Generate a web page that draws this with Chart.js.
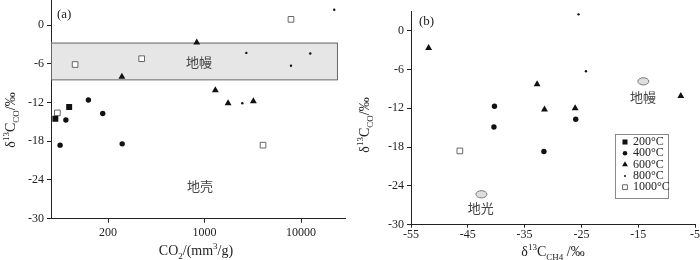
<!DOCTYPE html>
<html>
<head>
<meta charset="utf-8">
<script src="https://cdn.jsdelivr.net/npm/chart.js@4"></script>
<style>
  html, body { margin: 0; padding: 0; background: #fff; overflow: hidden; }
  #wrap { position: relative; width: 700px; height: 260px; }
  canvas { position: absolute; top: 0; }
</style>
</head>
<body>
<div id="wrap">
  <canvas id="chartA" width="350" height="260" style="left:0"></canvas>
  <canvas id="chartB" width="350" height="260" style="left:350px"></canvas>
</div>
<script>
// ---- (a) CO2 content vs d13C(CO)
const co2_200 = [28.4, 39.5];
const dco_200a = [-14.5, -12.7];
const co2_400 = [36.5, 62.5, 88, 31.8, 140];
const dco_400a = [-14.7, -11.6, -13.7, -18.6, -18.4];
const co2_600 = [139, 830, 1294, 1754, 3206];
const dco_600a = [-8.0, -2.7, -10.1, -12.1, -11.8];
const co2_800 = [22100, 2710, 7870, 12470, 2465];
const dco_800a = [2.4, -4.3, -6.3, -4.4, -12.1];
const co2_1000 = [7870, 45.5, 223, 29.8, 4037];
const dco_1000a = [0.9, -6.1, -5.2, -13.6, -18.6];
const xTicksA = [100, 1000, 10000];
const xTickLabelsA = ['200', '1000', '10000'];
const mantleBand = [-2.7, -8.4];      // d13C range of the shaded band
const mantleBandX = [25.6, 24150];    // CO2 extent of the band

// ---- (b) d13C(CH4) vs d13C(CO)
const ch4_400 = [-40.3, -40.4, -26.0, -31.6];
const dco_400b = [-11.7, -14.9, -13.7, -18.7];
const ch4_600 = [-51.9, -32.8, -31.5, -26.1, -7.5];
const dco_600b = [-2.7, -8.3, -12.2, -12.0, -10.1];
const ch4_800 = [-25.5, -24.2];
const dco_800b = [2.5, -6.3];
const ch4_1000 = [-46.4];
const dco_1000b = [-18.6];
const xTicksB = [-55, -45, -35, -25, -15, -5];
const yTicks = [-30, -24, -18, -12, -6, 0];
const mantleFieldB = [-14.1, -7.85];
const crustFieldB = [-42.6, -25.3];

const tempLabels = ['200°C', '400°C', '600°C', '800°C', '1000°C'];

Chart.defaults.font.family = '"Liberation Serif", serif';
Chart.defaults.color = '#222';

const ink = '#222';
const styles = [
  { pointStyle: 'rect', radius: 4.2, backgroundColor: '#111', borderColor: '#111', borderWidth: 0 },
  { pointStyle: 'circle', radius: 2.7, backgroundColor: '#111', borderColor: '#111', borderWidth: 0 },
  { pointStyle: 'triangle', radius: 4, backgroundColor: '#111', borderColor: '#111', borderWidth: 0 },
  { pointStyle: 'circle', radius: 1.2, backgroundColor: '#111', borderColor: '#111', borderWidth: 0 },
  { pointStyle: 'rect', radius: 4, backgroundColor: '#fff', borderColor: '#666', borderWidth: 1 }
];

function pts(xs, ys) { return xs.map((x, i) => ({ x: x, y: ys[i] })); }

function makeSets(pairs) {
  return pairs.map((p, i) => ({
    label: tempLabels[i],
    data: pts(p[0], p[1]),
    pointStyle: styles[i].pointStyle,
    pointRadius: styles[i].radius,
    pointHoverRadius: styles[i].radius,
    pointBackgroundColor: styles[i].backgroundColor,
    pointBorderColor: styles[i].borderColor,
    pointBorderWidth: styles[i].borderWidth,
    showLine: false
  }));
}

// rich text with super/subscripts, centred at x
function drawRich(ctx, segs, x, y, size) {
  const small = Math.round(size * 0.65);
  const fontFor = s => (s === 'n' ? size : small) + 'px "Liberation Serif", serif';
  let w = 0;
  segs.forEach(s => { ctx.font = fontFor(s[1]); w += ctx.measureText(s[0]).width; });
  let cx = x - w / 2;
  ctx.textBaseline = 'alphabetic';
  ctx.textAlign = 'left';
  segs.forEach(s => {
    ctx.font = fontFor(s[1]);
    const dy = s[1] === 'sup' ? -size * 0.42 : s[1] === 'sub' ? size * 0.25 : 0;
    ctx.fillText(s[0], cx, y + dy);
    cx += ctx.measureText(s[0]).width;
  });
}

const yTitleSegs = [['δ', 'n'], ['13', 'sup'], ['C', 'n'], ['CO', 'sub'], ['/‰', 'n']];

function fixScale(size, vertical) {
  return s => {
    if (vertical) s.width = size; else s.height = size;
    s.paddingTop = 0; s.paddingBottom = 0; s.paddingLeft = 0; s.paddingRight = 0;
  };
}

function yScale(width, max) {
  return {
    type: 'linear', min: -30, max: max,
    afterBuildTicks: s => { s.ticks = yTicks.map(v => ({ value: v })); },
    ticks: { font: { size: 12 }, color: ink, padding: 3 },
    grid: { drawOnChartArea: false, tickLength: 4, color: ink },
    border: { color: ink },
    afterFit: fixScale(width, true)
  };
}

// ---- chart (a)
const decorA = {
  id: 'decorA',
  beforeDatasetsDraw(chart) {
    const ctx = chart.ctx, x = chart.scales.x, y = chart.scales.y;
    const x0 = x.getPixelForValue(mantleBandX[0]), x1 = x.getPixelForValue(mantleBandX[1]);
    const y0 = y.getPixelForValue(mantleBand[0]), y1 = y.getPixelForValue(mantleBand[1]);
    ctx.save();
    ctx.fillStyle = '#e6e6e6';
    ctx.strokeStyle = '#666';
    ctx.lineWidth = 1;
    ctx.fillRect(x0, y0, x1 - x0, y1 - y0);
    ctx.strokeRect(x0 + 0.5, y0 + 0.5, x1 - x0 - 1, y1 - y0);
    ctx.fillStyle = '#444';
    ctx.font = '13px "Noto Sans CJK SC", sans-serif';
    ctx.textAlign = 'center';
    ctx.textBaseline = 'middle';
    ctx.fillText('地幔', x.getPixelForValue(877), y.getPixelForValue(-5.7));
    ctx.fillText('地壳', x.getPixelForValue(898), y.getPixelForValue(-24.9));
    ctx.restore();
  },
  afterDraw(chart) {
    const ctx = chart.ctx;
    ctx.save();
    ctx.fillStyle = ink;
    ctx.font = '13px "Liberation Serif", serif';
    ctx.textBaseline = 'middle';
    ctx.fillText('(a)', 57, 15);
    drawRich(ctx, [['CO', 'n'], ['2', 'sub'], ['/(mm', 'n'], ['3', 'sup'], ['/g)', 'n']], 196, 255, 14);
    ctx.translate(15, 120);
    ctx.rotate(-Math.PI / 2);
    drawRich(ctx, yTitleSegs, 0, 0, 14);
    ctx.restore();
  }
};

new Chart(document.getElementById('chartA'), {
  type: 'scatter',
  data: {
    datasets: makeSets([[co2_200, dco_200a], [co2_400, dco_400a], [co2_600, dco_600a],
                        [co2_800, dco_800a], [co2_1000, dco_1000a]])
  },
  options: {
    responsive: false, animation: false, devicePixelRatio: 1,
    layout: { autoPadding: false, padding: { left: 0, right: 5, top: 0, bottom: 0 } },
    plugins: { legend: { display: false }, tooltip: { enabled: false } },
    scales: {
      x: {
        type: 'logarithmic', min: 25.6, max: 28570,
        afterBuildTicks: s => { s.ticks = xTicksA.map(v => ({ value: v })); },
        ticks: { callback: (v, i) => xTickLabelsA[i], font: { size: 12 }, color: ink, padding: 3,
                 maxRotation: 0, autoSkip: false },
        grid: { drawOnChartArea: false, tickLength: 4, color: ink },
        border: { color: ink },
        afterFit: fixScale(41.3, false)
      },
      y: yScale(51, 3.9)
    }
  },
  plugins: [decorA]
});

// ---- chart (b)
const decorB = {
  id: 'decorB',
  beforeDatasetsDraw(chart) {
    const ctx = chart.ctx, x = chart.scales.x, y = chart.scales.y;
    ctx.save();
    ctx.fillStyle = '#dedede';
    ctx.strokeStyle = '#777';
    ctx.lineWidth = 1;
    [mantleFieldB, crustFieldB].forEach(f => {
      ctx.beginPath();
      ctx.ellipse(x.getPixelForValue(f[0]), y.getPixelForValue(f[1]), 5.5, 3.6, 0, 0, Math.PI * 2);
      ctx.fill();
      ctx.stroke();
    });
    ctx.fillStyle = '#444';
    ctx.font = '13px "Noto Sans CJK SC", sans-serif';
    ctx.textAlign = 'center';
    ctx.textBaseline = 'middle';
    ctx.fillText('地幔', x.getPixelForValue(-14.15), y.getPixelForValue(-10.3));
    ctx.fillText('地光', x.getPixelForValue(-42.7), y.getPixelForValue(-27.4));
    ctx.restore();
  },
  afterDraw(chart) {
    const ctx = chart.ctx;
    ctx.save();
    ctx.fillStyle = ink;
    ctx.font = '13px "Liberation Serif", serif';
    ctx.textBaseline = 'middle';
    ctx.fillText('(b)', 69, 22);
    drawRich(ctx, [['δ', 'n'], ['13', 'sup'], ['C', 'n'], ['CH', 'sub'], ['4', 'sub'], [' /‰', 'n']], 203, 256, 14);
    ctx.save();
    ctx.translate(19, 125);
    ctx.rotate(-Math.PI / 2);
    drawRich(ctx, yTitleSegs, 0, 0, 14);
    ctx.restore();

    // legend box
    const bx = 265, by = 134, bw = 53, bh = 64;
    ctx.strokeStyle = '#888';
    ctx.lineWidth = 1;
    ctx.strokeRect(bx + 0.5, by + 0.5, bw, bh);
    ctx.font = '12px "Liberation Serif", serif';
    ctx.textAlign = 'left';
    ctx.textBaseline = 'middle';
    chart.data.datasets.forEach((ds, i) => {
      const yy = by + 8 + i * 11.3;
      ctx.fillStyle = ds.pointBackgroundColor;
      ctx.strokeStyle = ds.pointBorderColor;
      ctx.lineWidth = ds.pointBorderWidth;
      Chart.helpers.drawPoint(ctx, {
        pointStyle: ds.pointStyle, radius: ds.pointRadius * 0.85, rotation: 0,
        borderWidth: ds.pointBorderWidth
      }, bx + 10, yy);
      ctx.fillStyle = ink;
      ctx.fillText(ds.label, bx + 18, yy);
    });
    ctx.restore();
  }
};

new Chart(document.getElementById('chartB'), {
  type: 'scatter',
  data: {
    datasets: makeSets([[[], []], [ch4_400, dco_400b], [ch4_600, dco_600b],
                        [ch4_800, dco_800b], [ch4_1000, dco_1000b]])
  },
  options: {
    responsive: false, animation: false, devicePixelRatio: 1,
    layout: { autoPadding: false, padding: { left: 0, right: 5, top: 11.1, bottom: 0 } },
    plugins: { legend: { display: false }, tooltip: { enabled: false } },
    scales: {
      x: {
        type: 'linear', min: -55, max: -5,
        afterBuildTicks: s => { s.ticks = xTicksB.map(v => ({ value: v })); },
        ticks: { font: { size: 12 }, color: ink, padding: 0, maxRotation: 0, autoSkip: false },
        grid: { drawOnChartArea: false, tickLength: 3, color: ink },
        border: { color: ink },
        afterFit: fixScale(35.3, false)
      },
      y: yScale(61, 3)
    }
  },
  plugins: [decorB]
});
</script>
</body>
</html>
